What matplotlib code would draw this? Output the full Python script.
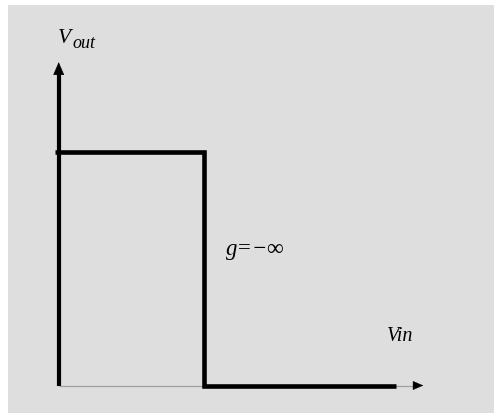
import matplotlib
matplotlib.use("Agg")
import matplotlib.pyplot as plt
from matplotlib.patches import Rectangle

# Transfer characteristic of an ideal inverter with gain g = -inf
vin = [-0.026, 1.0, 1.0, 2.33]
vout = [1.0, 1.0, 0.0, 0.0]

x_label = "V"
x_label_sub = "in"
y_label = "V"
y_label_sub = "out"
gain_label = "g=\u2212\u221e"

W, H = 494, 414
fig = plt.figure(figsize=(W / 100, H / 100), dpi=100)
fig.patch.set_facecolor("white")
fig.patches.append(Rectangle((8 / W, 0), 1 - 8 / W, 1 - 5.5 / H,
                             transform=fig.transFigure, facecolor="#dedede",
                             edgecolor="none", zorder=-10))

ax = fig.add_axes([0, 0, 1, 1])
ax.set_zorder(1)
ax.set_facecolor("none")
x0, px_x = 58.7, 144.8
y0, px_y = 386.5, 234.0
ax.set_xlim(-x0 / px_x, (W - x0) / px_x)
ax.set_ylim(-(H - y0) / px_y, y0 / px_y)
ax.axis("off")

# x axis: thin gray with small black arrowhead
ax.plot([0, 2.45], [0, 0], color="#a0a0a0", lw=0.9, solid_capstyle="butt", zorder=2)
ax.annotate("", xy=(2.518, 0), xytext=(2.45, 0),
            arrowprops=dict(arrowstyle="-|>,head_length=0.7,head_width=0.3",
                            color="black", lw=0.3, shrinkA=0, shrinkB=0,
                            mutation_scale=10), zorder=3)

# y axis: thick black with arrowhead
ax.plot([0, 0], [0, 1.35], color="black", lw=3.0, solid_capstyle="butt", zorder=3)
ax.annotate("", xy=(0, 1.382), xytext=(0, 1.30),
            arrowprops=dict(arrowstyle="-|>,head_length=0.7,head_width=0.3",
                            color="black", lw=0.5, shrinkA=0, shrinkB=0,
                            mutation_scale=12), zorder=3)

# transfer curve
ax.plot(vin, vout, color="black", lw=3.3, solid_joinstyle="miter",
        solid_capstyle="butt", zorder=4)

font = dict(family="Liberation Serif", style="italic", color="black")
ax.text(-0.005, (y0 - 43.5) / px_y, y_label, fontsize=15.5, ha="left", va="baseline", **font)
ax.text((72 - x0) / px_x, (y0 - 47.7) / px_y, y_label_sub, fontsize=13, ha="left", va="baseline", **font)
ax.text((387 - x0) / px_x, (y0 - 341) / px_y, x_label + x_label_sub, fontsize=14.5,
        ha="left", va="baseline", **font)
ax.text((226 - x0) / px_x, (y0 - 255) / px_y, gain_label, fontsize=16.5,
        ha="left", va="baseline", **font)

fig.savefig("out.png", dpi=100, facecolor=fig.get_facecolor())
